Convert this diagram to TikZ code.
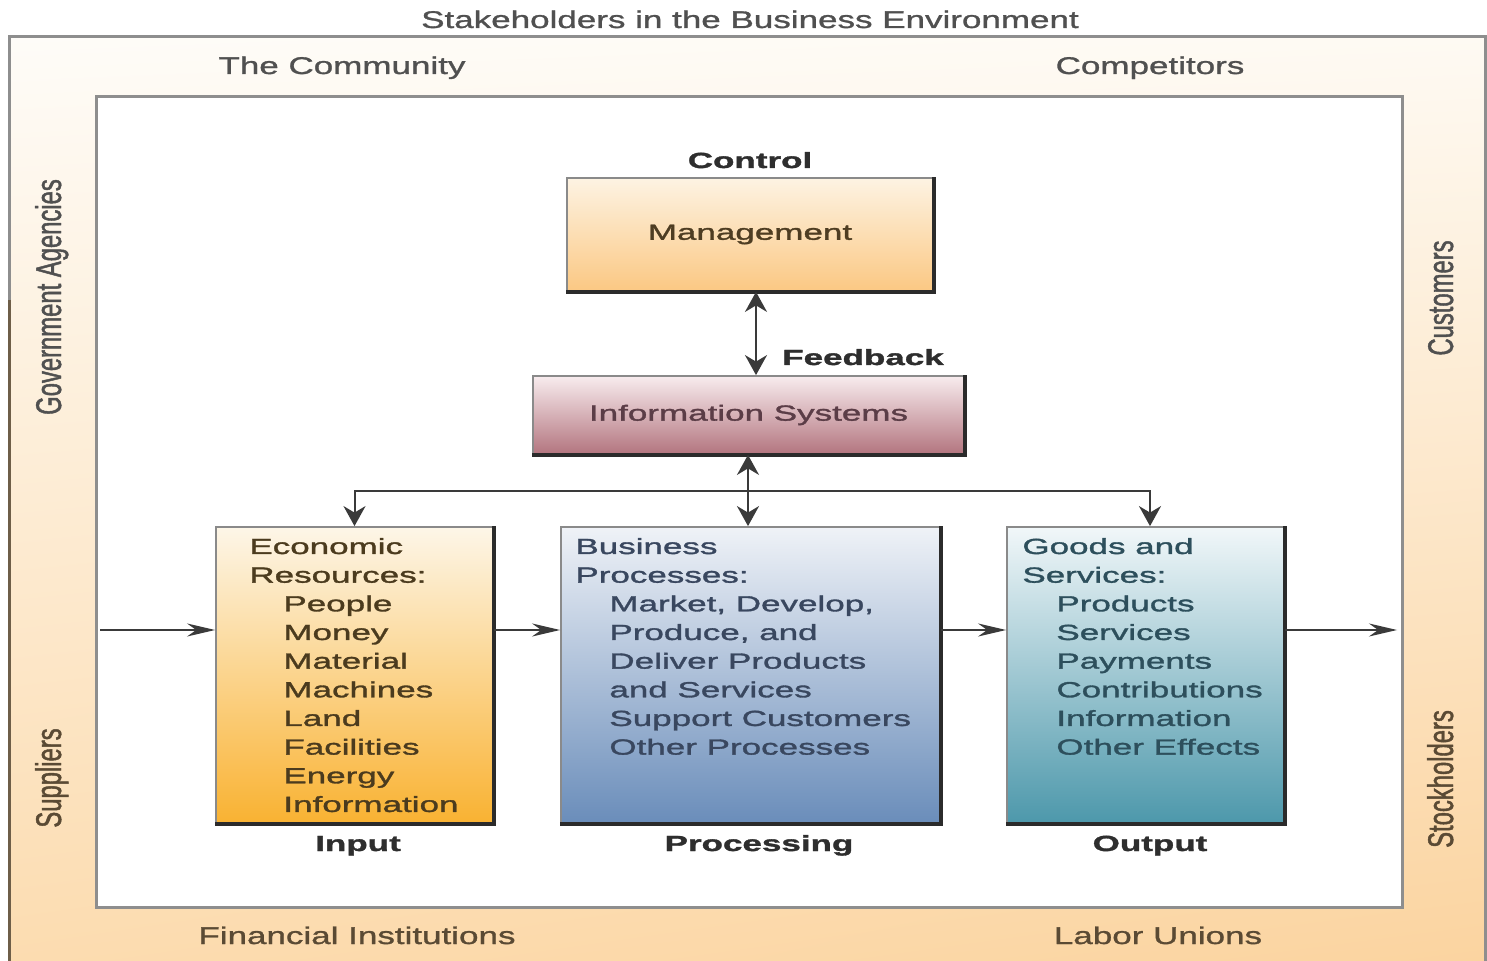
\documentclass[tikz,border=0pt]{standalone}
\usepackage{fontspec}
\setmainfont{Liberation Sans}[FakeStretch=1.45,FakeBold=1.2]
\newfontfamily\boxfont{Liberation Sans}[FakeStretch=1.6,FakeBold=1.5]
\newfontfamily\rotfont{Liberation Sans}[FakeStretch=0.667,FakeBold=1.2]
\usetikzlibrary{arrows.meta,shadings}
\definecolor{bandUL}{HTML}{FEFCF8}
\definecolor{bandUR}{HTML}{FEFAF3}
\definecolor{bandLL}{HTML}{FCDCB0}
\definecolor{bandLR}{HTML}{FBD4A0}
\definecolor{framegray}{HTML}{8E8E8E}
\definecolor{framebrown}{HTML}{6E5E48}
\definecolor{outertxt}{HTML}{505050}
\definecolor{outertxtb}{HTML}{5A4A34}
\definecolor{darkedge}{HTML}{2B2B2B}
\definecolor{thinedge}{HTML}{8A8A8A}
\definecolor{conncol}{HTML}{3A3A3A}
\definecolor{mgmtTop}{HTML}{FDF3E3}
\definecolor{mgmtBot}{HTML}{FBC883}
\definecolor{mgmtTxt}{HTML}{4E3D22}
\definecolor{isTop}{HTML}{F8ECEE}
\definecolor{isBot}{HTML}{B3757F}
\definecolor{isTxt}{HTML}{5B3D47}
\definecolor{inpTop}{HTML}{FDF6E8}
\definecolor{inpMid}{HTML}{FCD691}
\definecolor{inpBot}{HTML}{F9B232}
\definecolor{inpTxt}{HTML}{4B3B1E}
\definecolor{procTop}{HTML}{EFF2F7}
\definecolor{procMid}{HTML}{AEC0D8}
\definecolor{procBot}{HTML}{6A8DBA}
\definecolor{procTxt}{HTML}{39475F}
\definecolor{outTop}{HTML}{F1F7F9}
\definecolor{outMid}{HTML}{A7CDD6}
\definecolor{outBot}{HTML}{4D98AB}
\definecolor{outTxt}{HTML}{2D4F5C}
\definecolor{boldTxt}{HTML}{2E2E2E}
\begin{document}
\begin{tikzpicture}[x=0.5pt,y=-0.5pt,
  outerlbl/.style={inner sep=0pt, anchor=base, font=\fontsize{12.07pt}{14pt}\selectfont},
  rotlbl/.style={inner sep=0pt, anchor=base, rotate=90, font=\rotfont\fontsize{17.85pt}{20pt}\selectfont},
  boxbase/.style={draw=thinedge, line width=0.9pt, inner sep=0pt, shading angle=0},
  shadowedge/.style={draw=darkedge, line width=2pt, line join=miter},
  boxtxt/.style={inner sep=0pt, anchor=base west, font=\boxfont\fontsize{10.94pt}{14.33pt}\selectfont},
  boldlbl/.style={inner sep=0pt, anchor=base, text=boldTxt, font=\boxfont\bfseries\fontsize{10.94pt}{14pt}\selectfont},
  conn/.style={draw=conncol, line width=1pt},
  harrow/.style={-{Stealth[length=14pt,width=6.5pt]}},
  varrow/.style={-{Stealth[length=10pt,width=11pt]}},
  vdouble/.style={{Stealth[length=10pt,width=11pt]}-{Stealth[length=10pt,width=11pt]}}
]
\useasboundingbox (0,0) rectangle (1487,961);

% outer band
\shade[upper left=bandUL, upper right=bandUR, lower left=bandLL, lower right=bandLR]
  (9,37) rectangle (1485,961);
\draw[framegray, line width=1.5pt] (9,961) -- (9,37) -- (1485,37) -- (1485,961);
\draw[framebrown, line width=1.5pt] (9,300) -- (9,961);

% title and stakeholder labels
\node[outerlbl, text=outertxt] (title) at (750,28) {Stakeholders in the Business Environment};
\node[outerlbl, text=outertxt] (community) at (342,74) {The Community};
\node[outerlbl, text=outertxt] (competitors) at (1150,74) {Competitors};
\node[outerlbl, text=outertxtb] (financial) at (357,944) {Financial Institutions};
\node[outerlbl, text=outertxtb] (labor) at (1158,944) {Labor Unions};
\node[rotlbl, text=outertxt] (gov) at (61,297) {Government Agencies};
\node[rotlbl, text=outertxtb] (suppliers) at (61,778) {Suppliers};
\node[rotlbl, text=outertxt] (customers) at (1453,298) {Customers};
\node[rotlbl, text=outertxtb] (stockholders) at (1453,779) {Stockholders};

% inner frame
\draw[framegray, fill=white, line width=1.5pt] (96,97) rectangle (1402,907);

% management
\node[boxbase, top color=mgmtTop, bottom color=mgmtBot, minimum width=183pt, minimum height=56.5pt,
  text=mgmtTxt, font=\boxfont\fontsize{10.94pt}{14pt}\selectfont] (mgmt) at (750,234.5) {Management};
\draw[shadowedge] (mgmt.north east) -- (mgmt.south east) -- (mgmt.south west);
\node[boldlbl] (control) at (750,168) {Control};

% information systems
\node[boxbase, top color=isTop, bottom color=isBot, minimum width=215.5pt, minimum height=39pt,
  text=isTxt, font=\boxfont\fontsize{10.94pt}{14pt}\selectfont] (is) at (748.5,415) {Information Systems};
\draw[shadowedge] (is.north east) -- (is.south east) -- (is.south west);
\node[boldlbl] (feedback) at (863,365) {Feedback};

% input / processing / output boxes
\node[boxbase, top color=inpTop, middle color=inpMid, bottom color=inpBot,
  minimum width=138.5pt, minimum height=148pt] (inp) at (354.5,675) {};
\draw[shadowedge] (inp.north east) -- (inp.south east) -- (inp.south west);
\node[boxbase, top color=procTop, middle color=procMid, bottom color=procBot,
  minimum width=189.5pt, minimum height=148pt] (proc) at (750.5,675) {};
\draw[shadowedge] (proc.north east) -- (proc.south east) -- (proc.south west);
\node[boxbase, top color=outTop, middle color=outMid, bottom color=outBot,
  minimum width=138.5pt, minimum height=148pt] (outp) at (1145.5,675) {};
\draw[shadowedge] (outp.north east) -- (outp.south east) -- (outp.south west);

\node[boxtxt, text=inpTxt] (inptext) at (249,554) {\begin{tabular}[t]{@{}l@{}}Economic\\Resources:\\
\hspace*{17pt}People\\\hspace*{17pt}Money\\\hspace*{17pt}Material\\\hspace*{17pt}Machines\\
\hspace*{17pt}Land\\\hspace*{17pt}Facilities\\\hspace*{17pt}Energy\\\hspace*{17pt}Information\end{tabular}};
\node[boxtxt, text=procTxt] (proctext) at (575,554) {\begin{tabular}[t]{@{}l@{}}Business\\Processes:\\
\hspace*{17pt}Market, Develop,\\\hspace*{17pt}Produce, and\\\hspace*{17pt}Deliver Products\\
\hspace*{17pt}and Services\\\hspace*{17pt}Support Customers\\\hspace*{17pt}Other Processes\end{tabular}};
\node[boxtxt, text=outTxt] (outtext) at (1022,554) {\begin{tabular}[t]{@{}l@{}}Goods and\\Services:\\
\hspace*{17pt}Products\\\hspace*{17pt}Services\\\hspace*{17pt}Payments\\
\hspace*{17pt}Contributions\\\hspace*{17pt}Information\\\hspace*{17pt}Other Effects\end{tabular}};

\node[boldlbl] (inputlbl) at (358,851) {Input};
\node[boldlbl] (proclbl) at (759,851) {Processing};
\node[boldlbl] (outputlbl) at (1150,851) {Output};

% connectors
\coordinate (src) at (100,630);
\coordinate (snk) at (1397,630);
\coordinate (junc) at (748,491);
\coordinate (fbx) at (756,0);
\coordinate (obx) at (1150,0);
\draw[conn, harrow] (src) -- (src -| inp.west);
\draw[conn, harrow] (inp.east |- src) -- (proc.west |- src);
\draw[conn, harrow] (proc.east |- src) -- (outp.west |- src);
\draw[conn, harrow] (outp.east |- src) -- (snk);
\draw[conn, vdouble] (mgmt.south -| fbx) -- (is.north -| fbx);
\draw[conn, vdouble] (is.south -| junc) -- (proc.north -| junc);
\draw[conn, varrow] (junc) -| (inp.north);
\draw[conn, varrow] (junc) -| (outp.north -| obx);
\end{tikzpicture}
\end{document}
